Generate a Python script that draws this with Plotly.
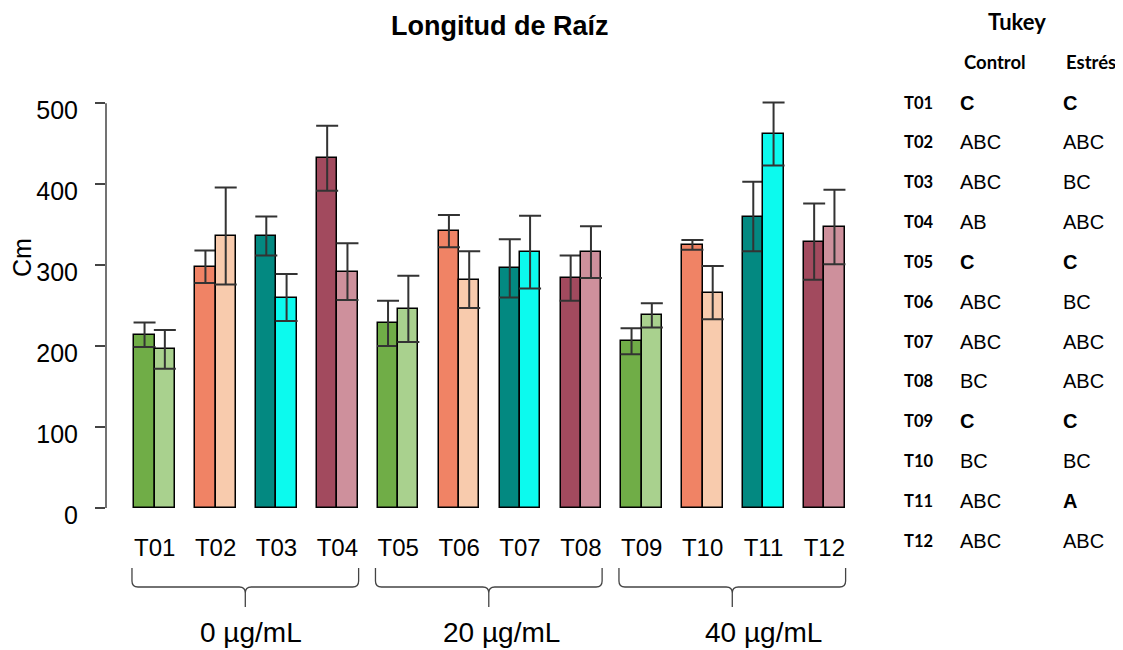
import plotly.graph_objects as go

# ---------------- data ----------------
treatments = ["T01", "T02", "T03", "T04", "T05", "T06", "T07", "T08", "T09", "T10", "T11", "T12"]
control_vals = [214, 298, 336, 432, 228, 342, 296, 284, 206, 325, 360, 329]
control_err = [15, 20, 24, 40, 28, 20, 36, 28, 16, 6, 43, 47]
stress_vals = [196, 336, 260, 292, 246, 282, 316, 316, 238, 266, 462, 347]
stress_err = [24, 60, 29, 35, 41, 35, 45, 32, 15, 33, 39, 46]
groups = ["0 µg/mL", "20 µg/mL", "40 µg/mL"]
tukey_control = ["C", "ABC", "ABC", "AB", "C", "ABC", "ABC", "BC", "C", "BC", "ABC", "ABC"]
tukey_stress = ["C", "ABC", "BC", "ABC", "C", "BC", "ABC", "ABC", "C", "BC", "A", "ABC"]
tukey_bold_control = [True, False, False, False, True, False, False, False, True, False, False, False]
tukey_bold_stress = [True, False, False, False, True, False, False, False, True, False, True, False]

control_colors = ["#70ad47", "#f08365", "#038981", "#a24a5e"] * 3
stress_colors = ["#a9d18e", "#f8cbad", "#0cfaee", "#ce909c"] * 3

# ---------------- layout geometry ----------------
OFF = 8  # page body margin
W, H = 1123 - OFF, 650 - OFF
ML, MR, MT, MB = 106 - OFF, 250, 87 - OFF, 142
XMIN, XMAX = -0.4, 37.4
YMIN, YMAX = 0, 520
plot_w = W - ML - MR
plot_h = H - MT - MB

n = len(treatments)
x_ctrl = [3 * (i + 1) - 1.5 for i in range(n)]
x_str = [3 * (i + 1) - 0.5 for i in range(n)]
x_mid = [3 * (i + 1) - 1 for i in range(n)]


def paper_x_from_data(u):
    return (u - XMIN) / (XMAX - XMIN)


def paper_x_from_px(px):
    # px in screen pixels
    return (px - OFF - ML) / plot_w


def paper_y_from_px(py):
    return (H - MB - (py - OFF)) / plot_h


FONT = "Liberation Sans, Arial, sans-serif"
TFONT = "Lato, Calibri, sans-serif"
ERRC = "#333333"

fig = go.Figure()
fig.add_trace(go.Bar(
    x=x_ctrl, y=control_vals, width=1, name="Control",
    marker=dict(color=control_colors, line=dict(color="black", width=1.5)),
    error_y=dict(type="data", array=control_err, visible=True, color=ERRC, thickness=2, width=11),
))
fig.add_trace(go.Bar(
    x=x_str, y=stress_vals, width=1, name="Estrés",
    marker=dict(color=stress_colors, line=dict(color="black", width=1.5)),
    error_y=dict(type="data", array=stress_err, visible=True, color=ERRC, thickness=2, width=11),
))

shapes = []
# y axis line (0 to 500)
shapes.append(dict(type="line", xref="paper", yref="paper", x0=0, x1=0,
                   y0=0, y1=500 / (YMAX - YMIN), line=dict(color="#444444", width=1.5)))

annotations = []
label_shift_px = [6, 13, 31]
# braces and group labels
for g, label in enumerate(groups):
    left_u = 12 * g + 1 - 0.12
    right_u = 12 * g + 12 + 0.05
    xl = paper_x_from_data(left_u)
    xr = paper_x_from_data(right_u)
    xc = (xl + xr) / 2
    y_top = paper_y_from_px(568)
    y_h = paper_y_from_px(587)
    y_tip = paper_y_from_px(607)
    rx = 6 / plot_w
    ry = 6 / plot_h
    path = (f"M {xl},{y_top} L {xl},{y_h + ry} Q {xl},{y_h} {xl + rx},{y_h} "
            f"L {xc - rx},{y_h} Q {xc},{y_h} {xc},{y_h - ry} L {xc},{y_tip} "
            f"M {xc},{y_h - ry} Q {xc},{y_h} {xc + rx},{y_h} "
            f"L {xr - rx},{y_h} Q {xr},{y_h} {xr},{y_h + ry} L {xr},{y_top}")
    shapes.append(dict(type="path", xref="paper", yref="paper", path=path,
                       line=dict(color="#444444", width=1.3)))
    annotations.append(dict(text=label, x=xc + label_shift_px[g] / plot_w, y=paper_y_from_px(632),
                            xref="paper", yref="paper",
                            showarrow=False, xanchor="center", yanchor="middle",
                            font=dict(family=FONT, size=28, color="black")))

# title
annotations.append(dict(text="<b>Longitud de Raíz</b>", x=paper_x_from_px(499), y=paper_y_from_px(26),
                        xref="paper", yref="paper", showarrow=False, xanchor="center", yanchor="middle",
                        font=dict(family=FONT, size=27, color="black")))
# y title
annotations.append(dict(text="Cm", x=paper_x_from_px(22), y=paper_y_from_px(258), xref="paper", yref="paper",
                        showarrow=False, textangle=-90, xanchor="center", yanchor="middle",
                        font=dict(family=FONT, size=25, color="black")))

# Tukey table
annotations.append(dict(text="<b>Tukey</b>", x=paper_x_from_px(1017), y=paper_y_from_px(22), xref="paper",
                        yref="paper", showarrow=False, xanchor="center", yanchor="middle",
                        font=dict(family=TFONT, size=22, color="black")))
annotations.append(dict(text="<b>Control</b>", x=paper_x_from_px(995), y=paper_y_from_px(62), xref="paper",
                        yref="paper", showarrow=False, xanchor="center", yanchor="middle",
                        font=dict(family=TFONT, size=18.5, color="black")))
annotations.append(dict(text="<b>Estrés</b>", x=paper_x_from_px(1091), y=paper_y_from_px(62), xref="paper",
                        yref="paper", showarrow=False, xanchor="center", yanchor="middle",
                        font=dict(family=TFONT, size=18.5, color="black")))
for i, t in enumerate(treatments):
    yy = paper_y_from_px(102.5 + 39.85 * i)
    annotations.append(dict(text=f"<b>{t}</b>", x=paper_x_from_px(902), y=yy, xref="paper", yref="paper",
                            showarrow=False, xanchor="left", yanchor="middle",
                            font=dict(family=TFONT, size=16.5, color="black")))
    tc = f"<b>{tukey_control[i]}</b>" if tukey_bold_control[i] else tukey_control[i]
    ts = f"<b>{tukey_stress[i]}</b>" if tukey_bold_stress[i] else tukey_stress[i]
    annotations.append(dict(text=tc, x=paper_x_from_px(958), y=yy, xref="paper", yref="paper",
                            showarrow=False, xanchor="left", yanchor="middle",
                            font=dict(family=FONT, size=20, color="black")))
    annotations.append(dict(text=ts, x=paper_x_from_px(1061), y=yy, xref="paper", yref="paper",
                            showarrow=False, xanchor="left", yanchor="middle",
                            font=dict(family=FONT, size=20, color="black")))

fig.update_layout(
    width=W, height=H,
    margin=dict(l=ML, r=MR, t=MT, b=MB),
    paper_bgcolor="white", plot_bgcolor="white",
    barmode="overlay", bargap=0,
    showlegend=False,
    shapes=shapes,
    annotations=annotations,
    xaxis=dict(range=[XMIN, XMAX], showgrid=False, zeroline=False, showline=False,
               tickmode="array", tickvals=x_mid, ticktext=treatments, ticks="",
               ticklabelstandoff=23,
               tickfont=dict(family=FONT, size=24, color="black")),
    yaxis=dict(range=[YMIN, YMAX], showgrid=False, zeroline=False, showline=False,
               tickmode="array", tickvals=[0, 100, 200, 300, 400, 500],
               ticks="outside", ticklen=10, tickwidth=1.5, tickcolor="#444444",
               ticklabelstandoff=12, ticklabelshift=7,
               tickfont=dict(family=FONT, size=25, color="black")),
)

fig.write_html("out.html")
